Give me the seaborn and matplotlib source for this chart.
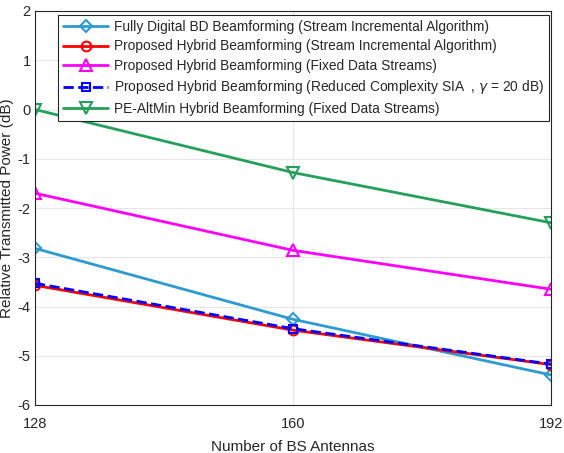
import numpy as np
import pandas as pd
import seaborn as sns
import matplotlib.pyplot as plt

antennas = [128, 160, 192]
fully_digital = [-2.82, -4.26, -5.39]
hybrid_sia = [-3.57, -4.48, -5.18]
hybrid_fixed = [-1.70, -2.86, -3.65]
hybrid_reduced = [-3.53, -4.45, -5.17]
pe_altmin = [0.0, -1.28, -2.30]

labels = [
    "Fully Digital BD Beamforming (Stream Incremental Algorithm)",
    "Proposed Hybrid Beamforming (Stream Incremental Algorithm)",
    "Proposed Hybrid Beamforming (Fixed Data Streams)",
    "Proposed Hybrid Beamforming (Reduced Complexity SIA  , $\\gamma$ = 20 dB)",
    "PE-AltMin Hybrid Beamforming (Fixed Data Streams)",
]

sns.set_style("white")
plt.rcParams['font.family'] = ['Liberation Sans', 'DejaVu Sans']
plt.rcParams['mathtext.fontset'] = 'dejavusans'
plt.rcParams['axes.unicode_minus'] = False

fig = plt.figure(figsize=(5.64, 4.53), dpi=100)
ax = fig.add_axes([35 / 564, 48 / 453, 516 / 564, 394 / 453])

series = [fully_digital, hybrid_sia, hybrid_fixed, hybrid_reduced, pe_altmin]
colors = ['#2E9BD0', '#FF0000', '#FF00FF', '#0000FF', '#24A05A']
markers = ['D', 'o', '^', 's', 'v']
sizes = [6.5, 7, 9, 6, 9]
styles = ['-', '-', '-', '--', '-']

for vals, lab, c, m, ms, ls in zip(series, labels, colors, markers, sizes, styles):
    df = pd.DataFrame({"x": antennas, "y": vals})
    sns.lineplot(data=df, x="x", y="y", ax=ax, color=c, linewidth=2, linestyle=ls,
                 marker=m, markersize=ms, markerfacecolor='none',
                 markeredgecolor=c, markeredgewidth=1.5, label=lab)

ax.set_xlim(128, 192)
ax.set_ylim(-6, 2)
ax.set_xticks(antennas)
ax.set_yticks(range(-6, 3))
ax.grid(True, color='#E6E6E6', linewidth=0.8)
ax.tick_params(direction='in', length=4, labelsize=10.5, colors='#262626')
ax.tick_params(axis='x', pad=9)
ax.tick_params(axis='y', pad=3)
for s in ax.spines.values():
    s.set_color('#262626')
    s.set_linewidth(0.8)
ax.set_xlabel("Number of BS Antennas", fontsize=11, color='#262626', labelpad=6)
ax.set_ylabel("Relative Transmitted Power (dB)", fontsize=11, color='#262626', labelpad=3)

leg = ax.legend(loc='upper left', bbox_to_anchor=(23 / 516, 1 - 4 / 394), borderaxespad=0,
                fontsize=9.9, handlelength=3.3, borderpad=0.35, labelspacing=0.4,
                handletextpad=0.4, fancybox=False, framealpha=1, edgecolor='#262626')
leg.get_frame().set_linewidth(0.8)

fig.savefig("out.png", dpi=100)
